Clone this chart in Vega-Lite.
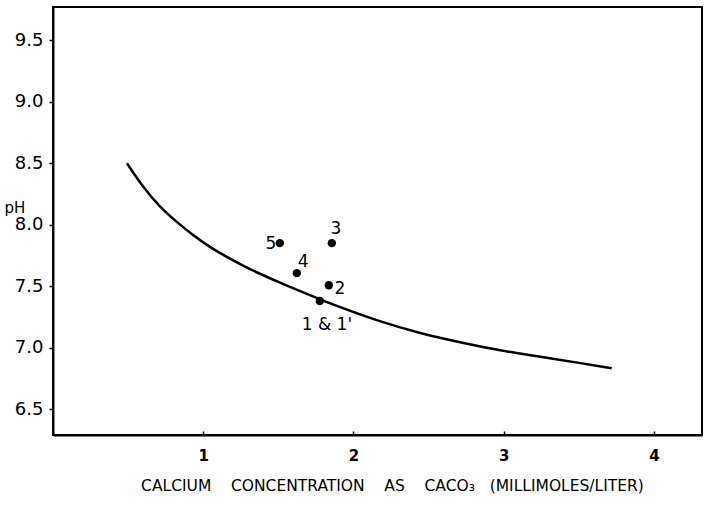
{
  "$schema": "https://vega.github.io/schema/vega-lite/v6.json",
  "autosize": "none",
  "width": 649,
  "height": 428,
  "padding": {"left": 53, "top": 7, "right": 3, "bottom": 78},
  "background": "white",
  "config": {
    "view": {"stroke": "#000", "strokeWidth": 2},
    "font": "DejaVu Sans",
    "axis": {"grid": false, "domainColor": "#000", "domainWidth": 2, "tickColor": "#000", "labelColor": "#000", "titleColor": "#000", "labelFont": "DejaVu Sans", "titleFont": "DejaVu Sans"}
  },
  "datasets": {
    "curve": [
      {"ca": 0.492, "ph": 8.500},
      {"ca": 0.599, "ph": 8.305},
      {"ca": 0.712, "ph": 8.142},
      {"ca": 0.825, "ph": 8.020},
      {"ca": 0.931, "ph": 7.915},
      {"ca": 1.045, "ph": 7.817},
      {"ca": 1.158, "ph": 7.736},
      {"ca": 1.264, "ph": 7.667},
      {"ca": 1.377, "ph": 7.600},
      {"ca": 1.490, "ph": 7.540},
      {"ca": 1.597, "ph": 7.484},
      {"ca": 1.710, "ph": 7.428},
      {"ca": 1.776, "ph": 7.392},
      {"ca": 1.976, "ph": 7.300},
      {"ca": 2.196, "ph": 7.205},
      {"ca": 2.422, "ph": 7.124},
      {"ca": 2.641, "ph": 7.061},
      {"ca": 2.861, "ph": 7.004},
      {"ca": 3.087, "ph": 6.955},
      {"ca": 3.307, "ph": 6.913},
      {"ca": 3.526, "ph": 6.872},
      {"ca": 3.719, "ph": 6.833}
    ],
    "samples": [
      {"sample": "5", "ca": 1.510, "ph": 7.850},
      {"sample": "3", "ca": 1.856, "ph": 7.850},
      {"sample": "4", "ca": 1.623, "ph": 7.606},
      {"sample": "2", "ca": 1.836, "ph": 7.508},
      {"sample": "1 & 1'", "ca": 1.776, "ph": 7.380}
    ],
    "labels": [
      {"label": "5", "ca": 1.450, "ph": 7.840},
      {"label": "3", "ca": 1.883, "ph": 7.965},
      {"label": "4", "ca": 1.665, "ph": 7.695},
      {"label": "2", "ca": 1.909, "ph": 7.476},
      {"label": "1 & 1'", "ca": 1.823, "ph": 7.183}
    ]
  },
  "layer": [
    {
      "data": {"name": "curve"},
      "mark": {"type": "line", "color": "#000", "strokeWidth": 2.5, "interpolate": "basis"},
      "encoding": {
        "x": {
          "field": "ca", "type": "quantitative",
          "scale": {"domain": [0, 4.32], "nice": false, "zero": false},
          "axis": {
            "values": [1, 2, 3, 4], "format": "d",
            "tickSize": -4, "tickWidth": 1.5, "labelPadding": 17, "labelFontSize": 15, "labelFontWeight": "bold",
            "title": "CALCIUM\u00a0\u00a0\u00a0\u00a0CONCENTRATION\u00a0\u00a0\u00a0\u00a0AS\u00a0\u00a0\u00a0\u00a0CACO\u2083\u00a0\u00a0\u00a0(MILLIMOLES/LITER)",
            "titleFontSize": 15.5, "titleFontWeight": "normal", "titleX": 339, "titleY": 50, "titleBaseline": "middle"
          }
        },
        "y": {
          "field": "ph", "type": "quantitative",
          "scale": {"domain": [6.29, 9.77], "nice": false, "zero": false},
          "axis": {
            "values": [6.5, 7.0, 7.5, 8.0, 8.5, 9.0, 9.5], "format": ".1f",
            "tickSize": 4, "tickWidth": 1.5, "labelPadding": 6, "labelFontSize": 18,
            "title": "pH", "titleAngle": 0, "titleFontSize": 15, "titleFontWeight": "normal",
            "titleX": -49, "titleY": 200, "titleAlign": "left", "titleBaseline": "middle"
          }
        }
      }
    },
    {
      "data": {"name": "samples"},
      "mark": {"type": "circle", "color": "#000", "opacity": 1, "size": 70},
      "encoding": {
        "x": {"field": "ca", "type": "quantitative"},
        "y": {"field": "ph", "type": "quantitative"}
      }
    },
    {
      "data": {"name": "labels"},
      "mark": {"type": "text", "color": "#000", "fontSize": 17, "align": "center", "baseline": "middle"},
      "encoding": {
        "x": {"field": "ca", "type": "quantitative"},
        "y": {"field": "ph", "type": "quantitative"},
        "text": {"field": "label"}
      }
    }
  ]
}
